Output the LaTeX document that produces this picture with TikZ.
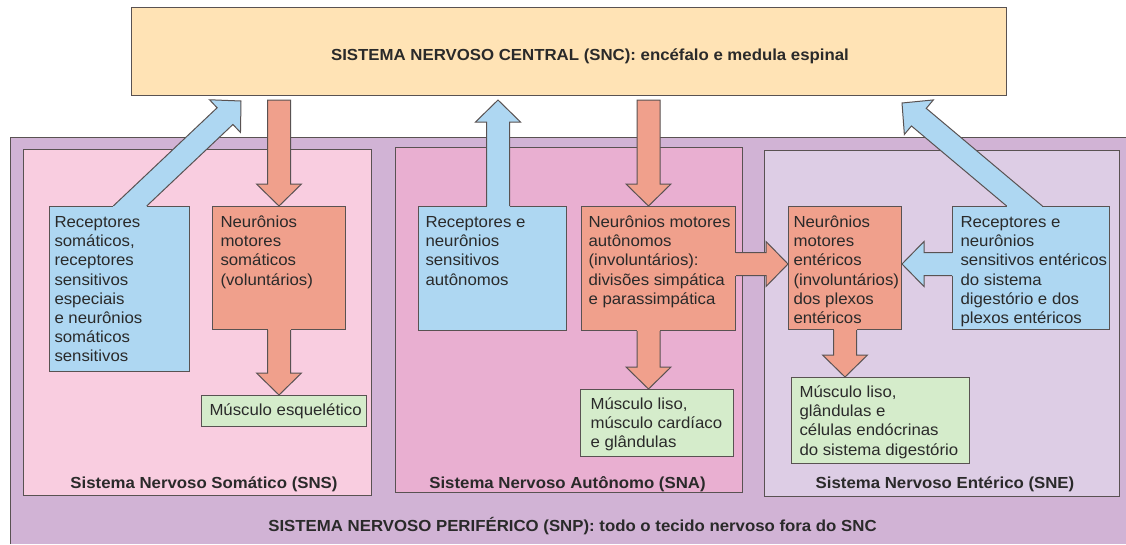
\documentclass[tikz,border=0pt]{standalone}
\usepackage{fontspec}
\setmainfont{Liberation Sans}[FakeStretch=1.05]
\usetikzlibrary{calc}

\definecolor{sncfill}{HTML}{FFE3B5}
\definecolor{snpfill}{HTML}{D1B3D5}
\definecolor{snsfill}{HTML}{F9CDE0}
\definecolor{snafill}{HTML}{E9AFD1}
\definecolor{snefill}{HTML}{DDCDE5}
\definecolor{bluefill}{HTML}{AED7F2}
\definecolor{orangefill}{HTML}{F0A08C}
\definecolor{greenfill}{HTML}{D5ECCB}
\definecolor{edge}{HTML}{595252}
\definecolor{ink}{HTML}{2A2A2A}

\tikzset{
  region/.style={draw=edge, line width=1pt, anchor=north west, inner sep=0pt},
  card/.style={draw=edge, line width=1pt, anchor=north west, inner sep=0pt,
    text=ink, font=\fontsize{16}{19.2}\selectfont},
  lbl/.style={anchor=base, inner sep=0pt, text=ink, font=\bfseries\fontsize{16}{19}\selectfont},
  arrowline/.style={draw=edge, line width=1pt, line join=miter},
}

% text block of a card: height, width, left padding, first baseline, lines
\newcommand\cardtext[5]{\parbox[b][#1pt][t]{#2pt}{\raggedright\leftskip=#3pt\relax\rule{0pt}{#4pt}#5}}

% fat arrow with a free start: colour, name, start, tip
\newcommand\fatarrow[4]{%
  \coordinate (#2h) at ($(#4)!22pt!(#3)$);
  \draw[arrowline, fill=#1]
    ($(#3)!11.5pt!90:(#4)$) -- ($(#2h)!11.5pt!90:(#4)$) -- ($(#2h)!22.5pt!90:(#4)$) -- (#4)
    -- ($(#2h)!22.5pt!-90:(#4)$) -- ($(#2h)!11.5pt!-90:(#4)$) -- ($(#3)!11.5pt!-90:(#4)$) -- cycle;}

% fat arrow growing out of a box edge: colour, name, start, tip, edge end 1, edge end 2
\newcommand\fatarrowfrom[6]{%
  \coordinate (#2h) at ($(#4)!22pt!(#3)$);
  \coordinate (#2l) at ($(#3)!11.5pt!90:(#4)$);
  \coordinate (#2r) at ($(#3)!11.5pt!-90:(#4)$);
  \coordinate (#2hl) at ($(#2h)!11.5pt!90:(#4)$);
  \coordinate (#2hr) at ($(#2h)!11.5pt!-90:(#4)$);
  \coordinate (#2wl) at ($(#2h)!22.5pt!90:(#4)$);
  \coordinate (#2wr) at ($(#2h)!22.5pt!-90:(#4)$);
  \coordinate (#2bl) at (intersection of #2l--#2hl and #5--#6);
  \coordinate (#2br) at (intersection of #2r--#2hr and #5--#6);
  \fill[#1] (#2bl) -- (#2hl) -- (#2wl) -- (#4) -- (#2wr) -- (#2hr) -- (#2br) -- cycle;
  \draw[#1, line width=1.8pt] (#2bl) -- (#2br);
  \draw[arrowline] (#2bl) -- (#2hl) -- (#2wl) -- (#4) -- (#2wr) -- (#2hr) -- (#2br);}

\begin{document}
\begin{tikzpicture}[x=1pt, y=-1pt]
\useasboundingbox (0,0) rectangle (1126,544);
\fill[white] (0,0) rectangle (1126,544);

% peripheral nervous system
\fill[snpfill] (10,137) rectangle (1126,544);
\draw[edge, line width=1pt] (10,544) -- (10,137) -- (1126,137);
\node[lbl] (snpTitle) at (572.5,531) {SISTEMA NERVOSO PERIFÉRICO (SNP): todo o tecido nervoso fora do SNC};

% the three divisions
\node[region, fill=snsfill, minimum width=348pt, minimum height=346pt] (sns) at (23,149) {};
\node[region, fill=snafill, minimum width=347pt, minimum height=345pt] (sna) at (395,147) {};
\node[region, fill=snefill, minimum width=355pt, minimum height=346pt] (sne) at (764,150) {};
\node[lbl] (snsTitle) at (204,488) {Sistema Nervoso Somático (SNS)};
\node[lbl] (snaTitle) at (567.5,488) {Sistema Nervoso Autônomo (SNA)};
\node[lbl] (sneTitle) at (945,488) {Sistema Nervoso Entérico (SNE)};

% central nervous system
\node[region, fill=sncfill, minimum width=875pt, minimum height=88pt] (snc) at (131,7) {};
\node[lbl] (sncTitle) at (590,60) {SISTEMA NERVOSO CENTRAL (SNC): encéfalo e medula espinal};

% somatic
\node[card, fill=bluefill] (rS) at (49,206) {\cardtext{165}{140}{5}{21}{Receptores\\somáticos,\\receptores\\sensitivos\\especiais\\e neurônios\\somáticos\\sensitivos}};
\node[card, fill=orangefill] (mS) at (212,206) {\cardtext{123}{133}{8}{21}{Neurônios\\motores\\somáticos\\(voluntários)}};
\node[card, fill=greenfill] (gS) at (201,395) {\cardtext{31}{165}{8}{20}{Músculo esquelético}};

% autonomic
\node[card, fill=bluefill] (rA) at (418,206) {\cardtext{124}{148}{7}{21}{Receptores e\\neurônios\\sensitivos\\autônomos}};
\node[card, fill=orangefill] (mA) at (581,206) {\cardtext{124}{154}{7}{21}{Neurônios motores\\autônomos\\(involuntários):\\divisões simpática\\e parassimpática}};
\node[card, fill=greenfill] (gA) at (580,389) {\cardtext{67}{153}{10}{20}{Músculo liso,\\músculo cardíaco\\e glândulas}};

% enteric
\node[card, fill=orangefill] (mE) at (788,206) {\cardtext{123}{113}{5}{21}{Neurônios\\motores\\entéricos\\(involuntários)\\dos plexos\\entéricos}};
\node[card, fill=bluefill] (rE) at (952,206) {\cardtext{123}{157}{8}{21}{Receptores e\\neurônios\\sensitivos entéricos\\do sistema\\digestório e dos\\plexos entéricos}};
\node[card, fill=greenfill] (gE) at (791,377) {\cardtext{86}{178}{8}{20}{Músculo liso,\\glândulas e\\células endócrinas\\do sistema digestório}};

% anchor points of the arrows
\coordinate (sUp) at ($(rS.north west)+(81,0)$);
\coordinate (sUpTip) at (241,101);
\coordinate (sDown) at ($(snc.south -| mS.north)+(0,4)$);
\coordinate (aUp) at ($(rA.north west)+(80,0)$);
\coordinate (aUpTip) at ($(aUp |- snc.south)+(0,4)$);
\coordinate (aAxis) at ($(mA.north west)+(67.5,0)$);
\coordinate (aDown) at ($(aAxis |- snc.south)+(0,4)$);
\coordinate (aSide) at ($(mA.east)+(0,-4.5)$);
\coordinate (eIn) at ($(rE.west)+(0,-4)$);
\coordinate (eUp) at ($(rE.north west)+(72.5,0)$);
\coordinate (eUpTip) at (902,103);

% somatic pathways
\fatarrowfrom{bluefill}{sa}{sUp}{sUpTip}{rS.north west}{rS.north east}
\fatarrow{orangefill}{sb}{sDown}{mS.north}
\fatarrowfrom{orangefill}{sc}{mS.south}{mS.south |- gS.north}{mS.south west}{mS.south east}

% autonomic pathways
\fatarrowfrom{bluefill}{aa}{aUp}{aUpTip}{rA.north west}{rA.north east}
\fatarrow{orangefill}{ab}{aDown}{aAxis}
\fatarrowfrom{orangefill}{ac}{aAxis |- mA.south}{aAxis |- gA.north}{mA.south west}{mA.south east}
\fatarrowfrom{orangefill}{ad}{aSide}{mE.west |- aSide}{mA.north east}{mA.south east}

% enteric pathways
\fatarrowfrom{bluefill}{ea}{eIn}{mE.east |- eIn}{rE.north west}{rE.south west}
\fatarrowfrom{bluefill}{eb}{eUp}{eUpTip}{rE.north west}{rE.north east}
\fatarrowfrom{orangefill}{ec}{mE.south}{mE.south |- gE.north}{mE.south west}{mE.south east}
\end{tikzpicture}
\end{document}
